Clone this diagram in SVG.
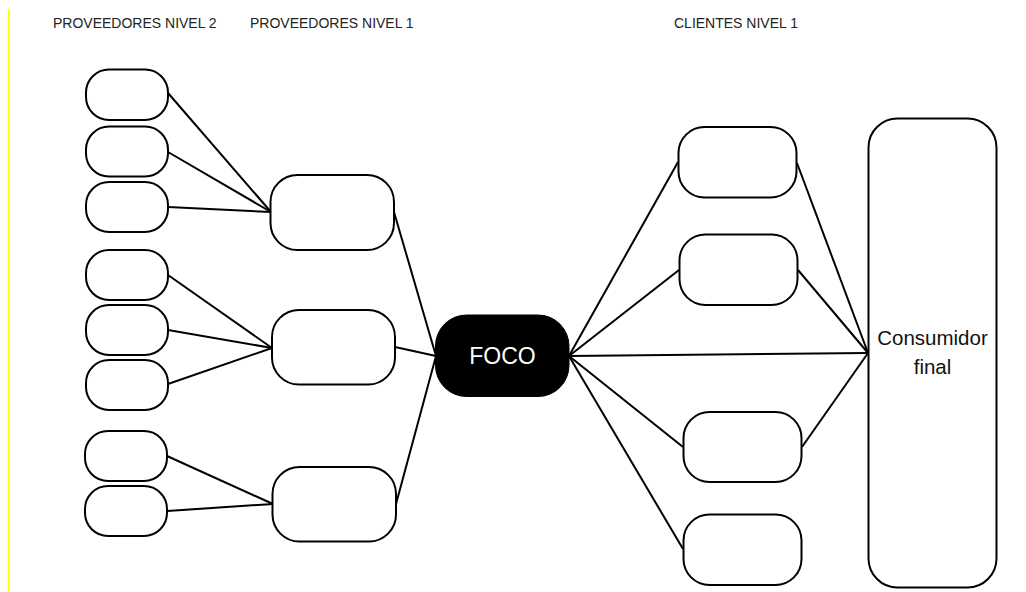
<svg xmlns="http://www.w3.org/2000/svg" width="1026" height="592" viewBox="0 0 1026 592">
<style>
.n{fill:#fff;stroke:#000;stroke-width:2}
.h{font-family:"Liberation Sans",Arial,sans-serif;font-size:14px;fill:#222}
.c line{stroke:#000;stroke-width:2}
.t{font-family:"Liberation Sans",Arial,sans-serif;text-anchor:middle}
</style>
<rect width="1026" height="592" fill="#fff"/>
<line x1="8.5" y1="9" x2="8.5" y2="592" stroke="#ffff00" stroke-width="1.5"/>
<g id="headers">
<text class="h" x="53" y="28">PROVEEDORES NIVEL 2</text>
<text class="h" x="250" y="28">PROVEEDORES NIVEL 1</text>
<text class="h" x="674" y="28">CLIENTES NIVEL 1</text>
</g>
<g class="c" id="connectors">
<line x1="168" y1="93" x2="271" y2="212"/>
<line x1="168" y1="152" x2="271" y2="212"/>
<line x1="168" y1="207" x2="271" y2="212"/>
<line x1="168" y1="275" x2="272" y2="348"/>
<line x1="168" y1="330" x2="272" y2="348"/>
<line x1="168" y1="384" x2="272" y2="348"/>
<line x1="167" y1="456" x2="273" y2="504"/>
<line x1="167" y1="511" x2="273" y2="504"/>
<line x1="394" y1="212" x2="436" y2="356"/>
<line x1="395" y1="347" x2="436" y2="356"/>
<line x1="396" y1="504" x2="436" y2="356"/>
<line x1="569" y1="356" x2="678" y2="162"/>
<line x1="569" y1="356" x2="679" y2="270"/>
<line x1="569" y1="356" x2="868" y2="353"/>
<line x1="569" y1="356" x2="683" y2="447"/>
<line x1="569" y1="356" x2="683" y2="549"/>
<line x1="797" y1="163" x2="868" y2="353"/>
<line x1="798" y1="270" x2="868" y2="353"/>
<line x1="802" y1="447" x2="868" y2="353"/>
</g>
<g id="p2-1"><rect class="n" x="86" y="69.5" width="82" height="50.5" rx="23"/></g>
<g id="p2-2"><rect class="n" x="86" y="126.5" width="82" height="50" rx="23"/></g>
<g id="p2-3"><rect class="n" x="86" y="182" width="82" height="50" rx="23"/></g>
<g id="p2-4"><rect class="n" x="86" y="250" width="82" height="50" rx="23"/></g>
<g id="p2-5"><rect class="n" x="86" y="305" width="82" height="50" rx="23"/></g>
<g id="p2-6"><rect class="n" x="86" y="360" width="82" height="50" rx="23"/></g>
<g id="p2-7"><rect class="n" x="85" y="431" width="82" height="50" rx="23"/></g>
<g id="p2-8"><rect class="n" x="85" y="486" width="82" height="50" rx="23"/></g>
<g id="p1-a"><rect class="n" x="270.5" y="175" width="123.5" height="75" rx="27"/></g>
<g id="p1-b"><rect class="n" x="272" y="310" width="123" height="74.5" rx="27"/></g>
<g id="p1-c"><rect class="n" x="272.5" y="467" width="123.5" height="74.5" rx="27"/></g>
<g id="foco">
<rect x="435.5" y="315" width="133.5" height="81.5" rx="31" fill="#000" stroke="#000" stroke-width="1"/>
<text class="t" x="502.5" y="364" font-size="23" fill="#fff">FOCO</text>
</g>
<g id="c1-1"><rect class="n" x="678.5" y="127" width="118" height="70.5" rx="26"/></g>
<g id="c1-2"><rect class="n" x="679.5" y="234.5" width="118" height="70.5" rx="26"/></g>
<g id="c1-3"><rect class="n" x="683.5" y="412" width="118" height="70" rx="26"/></g>
<g id="c1-4"><rect class="n" x="683.5" y="514.5" width="118" height="70.5" rx="26"/></g>
<g id="consumidor">
<rect class="n" x="868.5" y="118.5" width="128" height="469" rx="29"/>
<text class="t" x="932.5" y="345" font-size="20.5" fill="#111">Consumidor</text>
<text class="t" x="932.5" y="374" font-size="20.5" fill="#111">final</text>
</g>
</svg>
